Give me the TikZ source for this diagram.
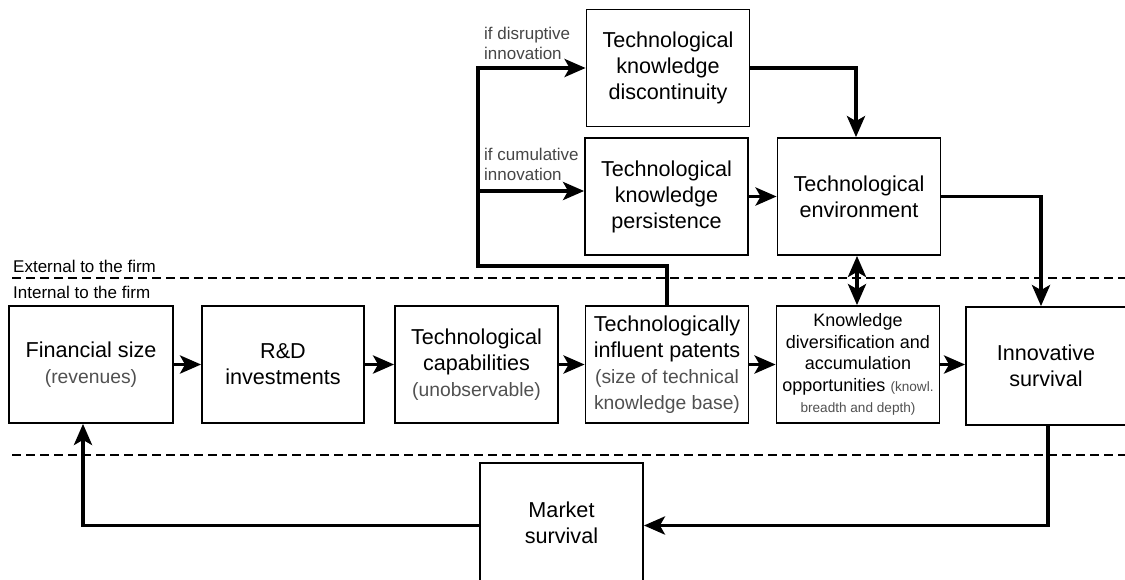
\documentclass[tikz,border=0pt]{standalone}
\usepackage{fontspec}
\setmainfont{Liberation Sans}
\usetikzlibrary{arrows.meta}

\definecolor{subgrey}{RGB}{80,80,80}
\definecolor{lblgrey}{RGB}{70,70,70}

% text sizes used in the boxes and labels
\newcommand\bxfont{\fontsize{21.6}{26}\selectfont}
\newcommand\grfont{\fontsize{19.3}{25}\selectfont\color{subgrey}}
\newcommand\knfont{\fontsize{18}{21.5}\selectfont}
\newcommand\tnfont{\fontsize{13.6}{16}\selectfont\color{subgrey}}
\newcommand\lbfont{\fontsize{17}{20}\selectfont\color{lblgrey}}
\newcommand\zonefont{\fontsize{17}{20}\selectfont}

\tikzset{
  head/.tip={Stealth[length=21pt,width=18pt,inset=5pt]},
  box/.style={draw, line width=1.8pt, minimum width=163pt, minimum height=117pt,
              align=center, inner sep=2pt, font=\bxfont},
  arr/.style={line width=3.8pt, line join=miter, -head},
  dbl/.style={line width=3.8pt, head-head},
  sep/.style={line width=2.4pt, dash pattern=on 9pt off 5pt},
  lbl/.style={align=left, inner sep=0pt, font=\lbfont},
  zone/.style={anchor=west, inner sep=0pt, font=\zonefont},
}

\begin{document}
\begin{tikzpicture}[x=1pt, y=-1pt]
  \useasboundingbox (0,0) rectangle (1125,579);
  \clip (0,0) rectangle (1125,579);

  % firm boundary lines
  \draw[sep] (12,278) -- (1125,278);
  \draw[sep] (12,455) -- (1125,455);
  \node[zone] (ext) at (13,266) {External to the firm};
  \node[zone] (int) at (13,292) {Internal to the firm};

  % external boxes
  \node[box] (disc) at (668,68)    {Technological\\knowledge\\discontinuity};
  \node[box] (pers) at (666.5,196.5) {Technological\\knowledge\\persistence};
  \node[box] (env)  at (859,196.5) {Technological\\environment};

  % internal chain
  \node[box, minimum width=164pt] (fin) at (91,364.5) {Financial size\\\grfont (revenues)};
  \node[box, minimum width=162pt] (rd)  at (283,364.5) {R\&D\\investments};
  \node[box] (cap) at (476.5,364.5) {Technological\\capabilities\\\grfont (unobservable)};
  \node[box] (pat) at (667,364.5) {Technologically\\influent patents\\\grfont (size of technical\\\grfont knowledge base)};
  \node[box, font=\knfont] (know) at (858,364.5)
    {Knowledge\\diversification and\\accumulation\\opportunities {\tnfont (knowl.}\\{\tnfont breadth and depth)}};
  \node[box, minimum width=160pt, minimum height=118pt] (inn) at (1046,366) {Innovative\\survival};

  % market outcome
  \node[box, minimum height=119pt] (mkt) at (561.5,522.5) {Market\\survival};

  % branch coordinates
  \coordinate (jB) at (478,266);
  \coordinate (jC) at (478,191);

  % labels on the branches
  \node[lbl, anchor=west] (ldis) at (484,43) {if disruptive\\innovation};
  \node[lbl, anchor=west] (lcum) at (484,164) {if cumulative\\innovation};

  % connectors
  \draw[arr] (pat.north) |- (jB) |- (disc.west);
  \draw[arr] (jC) -- (jC -| pers.west);
  \draw[arr] (disc.east) -| ([xshift=-3pt]env.north);
  \draw[arr] (pers) -- (env);
  \draw[arr] (env.east) -| ([xshift=-5pt]inn.north);
  \draw[dbl] ([xshift=-2pt]env.south) -- ([xshift=-1pt]know.north);

  \draw[arr] (fin) -- (rd);
  \draw[arr] (rd) -- (cap);
  \draw[arr] (cap) -- (pat);
  \draw[arr] (pat) -- (know);
  \draw[arr] (know.east) -- (know.east -| inn.west);

  \draw[arr] ([xshift=2pt]inn.south) |- ([yshift=-3pt]mkt.east);
  \draw[arr] ([yshift=-3pt]mkt.west) -| ([xshift=-8pt]fin.south);
\end{tikzpicture}
\end{document}
